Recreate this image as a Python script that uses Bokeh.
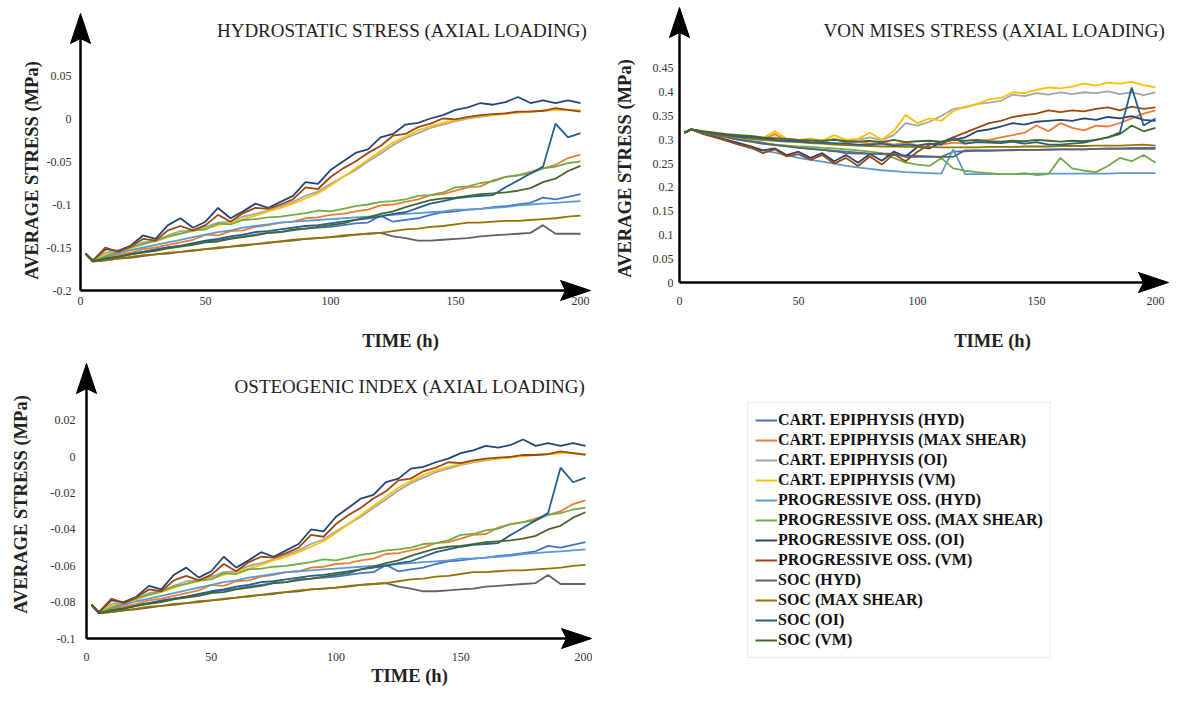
import math
from bokeh.plotting import figure
from bokeh.models import (Label, FixedTicker, CustomJSTickFormatter, Legend, LegendItem)
from bokeh.layouts import row, column
from bokeh.embed import file_html
from bokeh.resources import INLINE

# ---------------- data ----------------
T = [2, 5, 10, 15, 20, 25, 30, 35, 40, 45, 50, 55, 60, 65, 70, 75, 80, 85, 90, 95, 100,
     105, 110, 115, 120, 125, 130, 135, 140, 145, 150, 155, 160, 165, 170, 175, 180, 185, 190, 195, 200]

SERIES = ["CART. EPIPHYSIS (HYD)", "CART. EPIPHYSIS (MAX SHEAR)", "CART. EPIPHYSIS (OI)",
          "CART. EPIPHYSIS (VM)", "PROGRESSIVE OSS. (HYD)", "PROGRESSIVE OSS. (MAX SHEAR)",
          "PROGRESSIVE OSS. (OI)", "PROGRESSIVE OSS. (VM)", "SOC (HYD)", "SOC (MAX SHEAR)",
          "SOC (OI)", "SOC (VM)"]
COLORS = ["#4472C4", "#ED7D31", "#A5A5A5", "#FFC000", "#5B9BD5", "#70AD47",
          "#264478", "#9E480E", "#636363", "#997300", "#255E91", "#43682B"]

# Hydrostatic stress panel
H_CART_HYD = [-0.157, -0.166, -0.163, -0.160, -0.157, -0.155, -0.152, -0.150, -0.148, -0.146, -0.143, -0.141, -0.139, -0.137, -0.135, -0.133, -0.132, -0.130, -0.128, -0.127, -0.126, -0.124, -0.122, -0.121, -0.113, -0.120, -0.118, -0.116, -0.112, -0.109, -0.108, -0.106, -0.105, -0.103, -0.102, -0.100, -0.098, -0.092, -0.094, -0.091, -0.088]
H_CART_MS = [-0.157, -0.166, -0.162, -0.159, -0.156, -0.152, -0.150, -0.147, -0.144, -0.141, -0.135, -0.136, -0.131, -0.130, -0.126, -0.124, -0.121, -0.120, -0.116, -0.115, -0.112, -0.111, -0.108, -0.106, -0.101, -0.100, -0.097, -0.094, -0.089, -0.088, -0.084, -0.080, -0.079, -0.072, -0.068, -0.066, -0.062, -0.058, -0.054, -0.046, -0.042]
H_CART_OI = [-0.157, -0.165, -0.156, -0.154, -0.150, -0.144, -0.142, -0.136, -0.131, -0.130, -0.126, -0.121, -0.120, -0.114, -0.111, -0.107, -0.102, -0.097, -0.090, -0.085, -0.076, -0.068, -0.060, -0.050, -0.041, -0.031, -0.023, -0.017, -0.011, -0.007, -0.003, 0.000, 0.002, 0.004, 0.006, 0.007, 0.008, 0.009, 0.010, 0.010, 0.009]
H_CART_VM = [-0.158, -0.166, -0.158, -0.155, -0.151, -0.146, -0.143, -0.138, -0.134, -0.131, -0.128, -0.124, -0.121, -0.117, -0.113, -0.108, -0.104, -0.099, -0.093, -0.087, -0.078, -0.068, -0.058, -0.048, -0.038, -0.028, -0.021, -0.014, -0.009, -0.005, -0.002, 0.001, 0.003, 0.004, 0.005, 0.007, 0.008, 0.009, 0.010, 0.010, 0.009]
H_PROG_HYD = [-0.157, -0.166, -0.161, -0.157, -0.153, -0.150, -0.147, -0.144, -0.141, -0.138, -0.135, -0.132, -0.130, -0.127, -0.125, -0.123, -0.121, -0.120, -0.119, -0.118, -0.117, -0.116, -0.115, -0.114, -0.113, -0.112, -0.111, -0.110, -0.109, -0.108, -0.106, -0.106, -0.105, -0.104, -0.103, -0.101, -0.100, -0.099, -0.098, -0.097, -0.096]
H_PROG_MS = [-0.157, -0.166, -0.160, -0.155, -0.150, -0.146, -0.142, -0.137, -0.134, -0.130, -0.129, -0.122, -0.123, -0.118, -0.117, -0.115, -0.114, -0.112, -0.110, -0.107, -0.108, -0.105, -0.102, -0.100, -0.097, -0.096, -0.094, -0.090, -0.089, -0.086, -0.080, -0.079, -0.075, -0.073, -0.068, -0.066, -0.064, -0.058, -0.056, -0.052, -0.050]
H_PROG_OI = [-0.157, -0.165, -0.152, -0.154, -0.148, -0.136, -0.140, -0.124, -0.116, -0.127, -0.120, -0.104, -0.116, -0.108, -0.099, -0.104, -0.097, -0.090, -0.074, -0.076, -0.060, -0.050, -0.040, -0.036, -0.022, -0.018, -0.007, -0.005, 0.000, 0.004, 0.010, 0.013, 0.018, 0.016, 0.019, 0.025, 0.018, 0.021, 0.018, 0.021, 0.018]
H_PROG_VM = [-0.157, -0.165, -0.150, -0.155, -0.149, -0.140, -0.142, -0.130, -0.125, -0.130, -0.124, -0.112, -0.120, -0.110, -0.104, -0.105, -0.100, -0.094, -0.080, -0.082, -0.068, -0.058, -0.050, -0.040, -0.032, -0.020, -0.018, -0.010, -0.006, 0.000, -0.001, 0.002, 0.004, 0.005, 0.006, 0.008, 0.008, 0.009, 0.012, 0.010, 0.008]
H_SOC_HYD = [-0.157, -0.166, -0.165, -0.163, -0.162, -0.160, -0.158, -0.157, -0.155, -0.154, -0.152, -0.151, -0.149, -0.148, -0.146, -0.145, -0.143, -0.142, -0.140, -0.139, -0.138, -0.137, -0.135, -0.134, -0.133, -0.137, -0.139, -0.142, -0.142, -0.141, -0.140, -0.139, -0.137, -0.136, -0.135, -0.134, -0.133, -0.124, -0.134, -0.134, -0.134]
H_SOC_MS = [-0.157, -0.166, -0.165, -0.163, -0.161, -0.159, -0.158, -0.156, -0.155, -0.153, -0.152, -0.150, -0.149, -0.147, -0.146, -0.144, -0.143, -0.141, -0.140, -0.139, -0.138, -0.136, -0.135, -0.134, -0.133, -0.131, -0.129, -0.128, -0.126, -0.125, -0.123, -0.121, -0.121, -0.120, -0.119, -0.119, -0.118, -0.117, -0.116, -0.114, -0.113]
H_SOC_OI = [-0.157, -0.166, -0.163, -0.161, -0.158, -0.155, -0.153, -0.150, -0.148, -0.145, -0.142, -0.140, -0.137, -0.135, -0.132, -0.131, -0.129, -0.127, -0.125, -0.124, -0.122, -0.120, -0.118, -0.116, -0.114, -0.111, -0.109, -0.104, -0.099, -0.096, -0.093, -0.091, -0.090, -0.089, -0.080, -0.072, -0.064, -0.056, -0.006, -0.022, -0.017]
H_SOC_VM = [-0.157, -0.166, -0.163, -0.161, -0.158, -0.156, -0.154, -0.151, -0.149, -0.147, -0.144, -0.143, -0.140, -0.138, -0.136, -0.133, -0.132, -0.129, -0.128, -0.126, -0.124, -0.122, -0.118, -0.115, -0.111, -0.108, -0.103, -0.099, -0.095, -0.093, -0.092, -0.090, -0.088, -0.087, -0.086, -0.084, -0.081, -0.074, -0.070, -0.061, -0.055]

# Von Mises stress panel
V_CART_HYD = [0.315, 0.322, 0.316, 0.311, 0.306, 0.302, 0.298, 0.294, 0.290, 0.287, 0.284, 0.281, 0.279, 0.277, 0.275, 0.273, 0.271, 0.270, 0.268, 0.267, 0.266, 0.265, 0.264, 0.275, 0.276, 0.277, 0.277, 0.278, 0.278, 0.279, 0.279, 0.279, 0.280, 0.280, 0.280, 0.281, 0.282, 0.282, 0.283, 0.283, 0.283]
V_CART_MS = [0.315, 0.322, 0.315, 0.311, 0.307, 0.305, 0.303, 0.300, 0.312, 0.298, 0.297, 0.300, 0.295, 0.302, 0.294, 0.296, 0.292, 0.295, 0.290, 0.294, 0.288, 0.292, 0.290, 0.294, 0.292, 0.296, 0.300, 0.305, 0.310, 0.315, 0.330, 0.318, 0.335, 0.325, 0.320, 0.330, 0.328, 0.335, 0.345, 0.355, 0.362]
V_CART_OI = [0.315, 0.322, 0.314, 0.310, 0.306, 0.304, 0.302, 0.300, 0.305, 0.299, 0.298, 0.300, 0.297, 0.302, 0.298, 0.300, 0.305, 0.299, 0.310, 0.335, 0.330, 0.338, 0.350, 0.365, 0.368, 0.375, 0.378, 0.382, 0.395, 0.392, 0.398, 0.395, 0.400, 0.396, 0.400, 0.398, 0.402, 0.396, 0.400, 0.394, 0.400]
V_CART_VM = [0.315, 0.322, 0.316, 0.312, 0.308, 0.306, 0.304, 0.303, 0.318, 0.302, 0.300, 0.303, 0.298, 0.310, 0.300, 0.302, 0.315, 0.300, 0.318, 0.352, 0.335, 0.345, 0.340, 0.360, 0.370, 0.375, 0.385, 0.388, 0.400, 0.398, 0.405, 0.410, 0.408, 0.412, 0.418, 0.414, 0.420, 0.418, 0.422, 0.415, 0.410]
V_PROG_HYD = [0.315, 0.322, 0.314, 0.306, 0.298, 0.290, 0.282, 0.278, 0.273, 0.268, 0.262, 0.258, 0.254, 0.250, 0.245, 0.242, 0.239, 0.236, 0.234, 0.232, 0.231, 0.230, 0.229, 0.280, 0.228, 0.228, 0.228, 0.228, 0.228, 0.228, 0.229, 0.229, 0.229, 0.229, 0.229, 0.229, 0.229, 0.230, 0.230, 0.230, 0.230]
V_PROG_MS = [0.315, 0.322, 0.315, 0.310, 0.305, 0.300, 0.296, 0.292, 0.290, 0.288, 0.286, 0.285, 0.283, 0.282, 0.280, 0.278, 0.275, 0.272, 0.262, 0.252, 0.248, 0.245, 0.262, 0.240, 0.235, 0.232, 0.230, 0.228, 0.228, 0.230, 0.226, 0.228, 0.262, 0.240, 0.235, 0.232, 0.245, 0.262, 0.255, 0.268, 0.252]
V_PROG_OI = [0.315, 0.322, 0.313, 0.306, 0.300, 0.293, 0.286, 0.278, 0.282, 0.268, 0.275, 0.262, 0.272, 0.255, 0.268, 0.252, 0.270, 0.256, 0.275, 0.265, 0.285, 0.282, 0.295, 0.300, 0.305, 0.318, 0.322, 0.328, 0.335, 0.332, 0.338, 0.340, 0.342, 0.340, 0.345, 0.342, 0.348, 0.345, 0.350, 0.342, 0.340]
V_PROG_VM = [0.315, 0.322, 0.312, 0.305, 0.298, 0.290, 0.284, 0.272, 0.280, 0.265, 0.270, 0.258, 0.268, 0.250, 0.262, 0.245, 0.265, 0.248, 0.270, 0.255, 0.275, 0.290, 0.295, 0.305, 0.315, 0.325, 0.335, 0.340, 0.348, 0.352, 0.355, 0.362, 0.358, 0.362, 0.360, 0.365, 0.368, 0.362, 0.370, 0.365, 0.368]
V_SOC_HYD = [0.315, 0.322, 0.315, 0.310, 0.305, 0.300, 0.296, 0.292, 0.289, 0.286, 0.283, 0.281, 0.279, 0.276, 0.272, 0.271, 0.271, 0.271, 0.271, 0.264, 0.264, 0.264, 0.264, 0.264, 0.278, 0.278, 0.278, 0.278, 0.279, 0.279, 0.279, 0.280, 0.280, 0.280, 0.280, 0.281, 0.281, 0.281, 0.281, 0.281, 0.281]
V_SOC_MS = [0.315, 0.322, 0.316, 0.312, 0.308, 0.305, 0.302, 0.300, 0.298, 0.296, 0.295, 0.293, 0.292, 0.290, 0.289, 0.288, 0.287, 0.286, 0.286, 0.285, 0.285, 0.285, 0.284, 0.284, 0.284, 0.284, 0.285, 0.285, 0.285, 0.286, 0.286, 0.286, 0.287, 0.287, 0.287, 0.288, 0.288, 0.288, 0.289, 0.290, 0.288]
V_SOC_OI = [0.315, 0.322, 0.317, 0.313, 0.310, 0.307, 0.305, 0.303, 0.300, 0.298, 0.297, 0.295, 0.294, 0.293, 0.292, 0.290, 0.290, 0.292, 0.288, 0.290, 0.288, 0.292, 0.290, 0.305, 0.292, 0.295, 0.294, 0.293, 0.296, 0.292, 0.295, 0.290, 0.290, 0.292, 0.294, 0.300, 0.305, 0.315, 0.410, 0.330, 0.345]
V_SOC_VM = [0.315, 0.322, 0.318, 0.315, 0.312, 0.310, 0.308, 0.305, 0.303, 0.302, 0.300, 0.299, 0.298, 0.300, 0.297, 0.296, 0.298, 0.295, 0.300, 0.295, 0.297, 0.298, 0.296, 0.300, 0.298, 0.300, 0.297, 0.296, 0.298, 0.297, 0.300, 0.298, 0.296, 0.298, 0.297, 0.300, 0.305, 0.312, 0.330, 0.318, 0.325]

# Osteogenic index panel
O_CART_HYD = [-0.0815, -0.086, -0.0845, -0.083, -0.0815, -0.0805, -0.079, -0.078, -0.077, -0.076, -0.0745, -0.0735, -0.0725, -0.0715, -0.0705, -0.0695, -0.069, -0.068, -0.067, -0.0665, -0.066, -0.065, -0.064, -0.0635, -0.0595, -0.063, -0.062, -0.061, -0.059, -0.0575, -0.057, -0.056, -0.0555, -0.0545, -0.054, -0.053, -0.052, -0.049, -0.050, -0.0485, -0.047]
O_CART_MS = [-0.0815, -0.086, -0.084, -0.0825, -0.081, -0.079, -0.078, -0.0765, -0.075, -0.0735, -0.0705, -0.071, -0.0685, -0.068, -0.066, -0.065, -0.0635, -0.063, -0.061, -0.0605, -0.059, -0.0585, -0.057, -0.056, -0.0535, -0.053, -0.0515, -0.050, -0.0475, -0.047, -0.045, -0.043, -0.0425, -0.039, -0.037, -0.036, -0.034, -0.032, -0.030, -0.026, -0.024]
O_CART_OI = [-0.0815, -0.0855, -0.081, -0.080, -0.078, -0.075, -0.074, -0.071, -0.0685, -0.068, -0.066, -0.0635, -0.063, -0.060, -0.0585, -0.0565, -0.054, -0.0515, -0.048, -0.0455, -0.041, -0.037, -0.033, -0.028, -0.0235, -0.0185, -0.0145, -0.0115, -0.0085, -0.0065, -0.0045, -0.003, -0.002, -0.001, 0.000, 0.0005, 0.001, 0.0015, 0.002, 0.002, 0.0015]
O_CART_VM = [-0.082, -0.086, -0.082, -0.0805, -0.0785, -0.076, -0.0745, -0.072, -0.070, -0.0685, -0.067, -0.065, -0.0635, -0.0615, -0.0595, -0.057, -0.055, -0.0525, -0.0495, -0.0465, -0.042, -0.037, -0.032, -0.027, -0.022, -0.017, -0.0135, -0.010, -0.0075, -0.0055, -0.004, -0.0025, -0.0015, -0.001, -0.0005, 0.0005, 0.001, 0.0015, 0.002, 0.002, 0.0015]
O_PROG_HYD = [-0.0815, -0.086, -0.0835, -0.0815, -0.0795, -0.078, -0.0765, -0.075, -0.0735, -0.072, -0.0705, -0.069, -0.068, -0.0665, -0.0655, -0.0645, -0.0635, -0.063, -0.0625, -0.062, -0.0615, -0.061, -0.0605, -0.060, -0.0595, -0.059, -0.0585, -0.058, -0.0575, -0.057, -0.056, -0.056, -0.0555, -0.055, -0.0545, -0.0535, -0.053, -0.0525, -0.052, -0.0515, -0.051]
O_PROG_MS = [-0.0815, -0.086, -0.083, -0.0805, -0.078, -0.076, -0.074, -0.0715, -0.070, -0.068, -0.0675, -0.064, -0.0645, -0.062, -0.0615, -0.0605, -0.060, -0.059, -0.058, -0.0565, -0.057, -0.0555, -0.054, -0.053, -0.0515, -0.051, -0.050, -0.048, -0.0475, -0.046, -0.043, -0.0425, -0.0405, -0.0395, -0.037, -0.036, -0.035, -0.032, -0.031, -0.029, -0.028]
O_PROG_OI = [-0.0815, -0.0855, -0.079, -0.080, -0.077, -0.071, -0.073, -0.065, -0.061, -0.0665, -0.063, -0.055, -0.061, -0.057, -0.0525, -0.055, -0.0515, -0.048, -0.040, -0.041, -0.033, -0.028, -0.023, -0.021, -0.014, -0.012, -0.0065, -0.0055, -0.003, -0.001, 0.002, 0.0035, 0.006, 0.005, 0.0065, 0.0095, 0.006, 0.0075, 0.006, 0.0075, 0.006]
O_PROG_VM = [-0.0815, -0.0855, -0.078, -0.0805, -0.0775, -0.073, -0.074, -0.068, -0.0655, -0.068, -0.065, -0.059, -0.063, -0.058, -0.055, -0.0555, -0.053, -0.050, -0.043, -0.044, -0.037, -0.032, -0.028, -0.023, -0.019, -0.013, -0.012, -0.008, -0.006, -0.003, -0.0035, -0.002, -0.001, -0.0005, 0.000, 0.001, 0.001, 0.0015, 0.003, 0.002, 0.001]
O_SOC_HYD = [-0.0815, -0.086, -0.0855, -0.0845, -0.084, -0.083, -0.082, -0.0815, -0.0805, -0.080, -0.079, -0.0785, -0.0775, -0.077, -0.076, -0.0755, -0.0745, -0.074, -0.073, -0.0725, -0.072, -0.0715, -0.0705, -0.070, -0.0695, -0.0715, -0.0725, -0.074, -0.074, -0.0735, -0.073, -0.0725, -0.0715, -0.071, -0.0705, -0.070, -0.0695, -0.065, -0.070, -0.070, -0.070]
O_SOC_MS = [-0.0815, -0.086, -0.0855, -0.0845, -0.0835, -0.0825, -0.082, -0.081, -0.0805, -0.0795, -0.079, -0.078, -0.0775, -0.0765, -0.076, -0.075, -0.0745, -0.0735, -0.073, -0.0725, -0.072, -0.071, -0.0705, -0.070, -0.0695, -0.0685, -0.0675, -0.067, -0.066, -0.0655, -0.0645, -0.0635, -0.0635, -0.063, -0.0625, -0.0625, -0.062, -0.0615, -0.061, -0.060, -0.0595]
O_SOC_OI = [-0.0815, -0.086, -0.0845, -0.0835, -0.082, -0.0805, -0.0795, -0.078, -0.077, -0.0755, -0.074, -0.073, -0.0715, -0.0705, -0.069, -0.0685, -0.0675, -0.0665, -0.0655, -0.065, -0.064, -0.063, -0.062, -0.061, -0.060, -0.0585, -0.0575, -0.055, -0.0525, -0.051, -0.0495, -0.0485, -0.048, -0.0475, -0.043, -0.039, -0.035, -0.031, -0.006, -0.014, -0.0115]
O_SOC_VM = [-0.0815, -0.086, -0.0845, -0.0835, -0.082, -0.081, -0.080, -0.0785, -0.0775, -0.0765, -0.075, -0.0745, -0.073, -0.072, -0.071, -0.0695, -0.069, -0.0675, -0.067, -0.066, -0.065, -0.064, -0.062, -0.0605, -0.0585, -0.057, -0.0545, -0.0525, -0.0505, -0.0495, -0.049, -0.048, -0.047, -0.0465, -0.046, -0.045, -0.0435, -0.040, -0.038, -0.0335, -0.0305]

HYD = [H_CART_HYD, H_CART_MS, H_CART_OI, H_CART_VM, H_PROG_HYD, H_PROG_MS,
       H_PROG_OI, H_PROG_VM, H_SOC_HYD, H_SOC_MS, H_SOC_OI, H_SOC_VM]
VM = [V_CART_HYD, V_CART_MS, V_CART_OI, V_CART_VM, V_PROG_HYD, V_PROG_MS,
      V_PROG_OI, V_PROG_VM, V_SOC_HYD, V_SOC_MS, V_SOC_OI, V_SOC_VM]
OI = [O_CART_HYD, O_CART_MS, O_CART_OI, O_CART_VM, O_PROG_HYD, O_PROG_MS,
      O_PROG_OI, O_PROG_VM, O_SOC_HYD, O_SOC_MS, O_SOC_OI, O_SOC_VM]

X_TICKS = [0, 50, 100, 150, 200]
HYD_TICKS = [-0.2, -0.15, -0.1, -0.05, 0, 0.05]
VM_TICKS = [0, 0.05, 0.1, 0.15, 0.2, 0.25, 0.3, 0.35, 0.4, 0.45]
OI_TICKS = [-0.1, -0.08, -0.06, -0.04, -0.02, 0, 0.02]

TITLES = ["HYDROSTATIC STRESS (AXIAL LOADING)", "VON MISES STRESS (AXIAL LOADING)",
          "OSTEOGENIC INDEX (AXIAL LOADING)"]
Y_LABEL = "AVERAGE STRESS (MPa)"
X_LABEL = "TIME (h)"

FONT = "Liberation Serif"

# arrowhead shape, in pixels: length, half width, notch depth
HEAD_L, HEAD_W, HEAD_N = 30, 10, 5


def panel(geo, yticks, data, title):
    """geo: figure box on the page, axis origin in page pixels, pixel scales,
    and page-pixel anchors of the arrow tips and texts."""
    fx, fy, w, h = geo["box"]
    ox, oy = geo["origin"]
    sx, sy = geo["scale"]
    y0 = geo["ymin"]

    def dx(px):
        return (px - ox) / sx

    def dy(py):
        return y0 + (oy - py) / sy

    p = figure(width=w, height=h, x_range=(dx(fx), dx(fx + w)), y_range=(dy(fy + h), dy(fy)),
               output_backend="svg", toolbar_location=None, min_border=0)
    p.outline_line_color = None
    p.grid.visible = False
    p.background_fill_color = "white"
    p.border_fill_color = "white"

    for ys, c in zip(data, COLORS):
        p.line(T, ys, line_color=c, line_width=1.8)

    xa, ya = p.xaxis[0], p.yaxis[0]
    xa.fixed_location = y0
    ya.fixed_location = 0
    for ax in (xa, ya):
        ax.axis_line_color = None
        ax.major_tick_line_color = None
        ax.minor_tick_line_color = None
        ax.major_tick_out = 0
        ax.major_tick_in = 0
        ax.minor_tick_out = 0
        ax.major_label_text_font = FONT
        ax.major_label_text_font_size = "12px"
        ax.major_label_text_color = "#333333"
    xa.ticker = FixedTicker(ticks=X_TICKS)
    ya.ticker = FixedTicker(ticks=yticks)
    ya.formatter = CustomJSTickFormatter(
        code="return tick.toFixed(2).replace(/\\.?0+$/, '');")
    xa.major_label_standoff = geo["x_std"]
    ya.major_label_standoff = geo["y_std"]

    # axis arrows
    xt, yt = geo["xtip"], geo["ytip"]
    p.line([0, dx(xt - HEAD_L + HEAD_N)], [y0, y0], line_color="black", line_width=2.5)
    p.line([0, 0], [y0, dy(yt + HEAD_L - HEAD_N)], line_color="black", line_width=2.5)
    rx = [(0, 0), (-HEAD_L, -HEAD_W), (-HEAD_L + HEAD_N, 0), (-HEAD_L, HEAD_W)]
    p.patch([dx(xt + a) for a, b in rx], [dy(oy + b) for a, b in rx],
            fill_color="black", line_color="black", line_width=1)
    uy = [(0, 0), (-HEAD_W, HEAD_L), (0, HEAD_L - HEAD_N), (HEAD_W, HEAD_L)]
    p.patch([dx(ox + a) for a, b in uy], [dy(yt + b) for a, b in uy],
            fill_color="black", line_color="black", line_width=1)

    tx, ty = geo["title"]
    p.add_layout(Label(x=dx(tx), y=dy(ty), text=title, text_align="right",
                       text_baseline="middle", text_font=FONT, text_font_size="19px",
                       text_color="#222222"))
    lx, ly = geo["ylab"]
    p.add_layout(Label(x=dx(lx), y=dy(ly), text=Y_LABEL, angle=math.pi / 2,
                       text_align="center", text_baseline="middle", text_font=FONT,
                       text_font_size="18.5px", text_font_style="bold", text_color="#222222"))
    bx, by = geo["xlab"]
    p.add_layout(Label(x=dx(bx), y=dy(by), text=X_LABEL, text_align="center",
                       text_baseline="middle", text_font=FONT, text_font_size="18.5px",
                       text_font_style="bold", text_color="#222222"))
    return p


G1 = dict(box=(0, 0, 592, 356), origin=(80, 290), scale=(2.5, 860.0), ymin=-0.2,
          xtip=590, ytip=13, title=(587, 30), ylab=(31, 170), xlab=(400, 340),
          x_std=6, y_std=9)
G2 = dict(box=(592, 0, 577, 356), origin=(679, 282), scale=(2.38, 475.6), ymin=0.0,
          xtip=1168, ytip=7, title=(1165, 30), ylab=(624, 168), xlab=(992, 340),
          x_std=14, y_std=6)
G3 = dict(box=(0, 356, 592, 330), origin=(86, 638), scale=(2.495, 1817.0), ymin=-0.1,
          xtip=591, ytip=363, title=(585, 386), ylab=(20, 504), xlab=(409, 675),
          x_std=14, y_std=11)

p1 = panel(G1, HYD_TICKS, HYD, TITLES[0])
p2 = panel(G2, VM_TICKS, VM, TITLES[1])
p3 = panel(G3, OI_TICKS, OI, TITLES[2])

# legend panel (its sample lines lie outside the visible ranges)
lf = figure(width=577, height=330, output_backend="svg", toolbar_location=None,
            x_axis_location=None, y_axis_location=None, x_range=(0, 1), y_range=(0, 1),
            min_border=0)
lf.outline_line_color = None
lf.grid.visible = False
items = []
for name, c, ys in zip(SERIES, COLORS, HYD):
    r = lf.line(T, ys, line_color=c, line_width=2)
    items.append(LegendItem(label=name, renderers=[r]))
leg = Legend(items=items, location=(155, 28), glyph_width=22, glyph_height=20,
             label_height=20, label_standoff=1, spacing=0, padding=7, margin=0,
             label_text_font=FONT, label_text_font_style="bold", label_text_font_size="16px",
             label_text_color="#111111", border_line_color="#d9d9d9", border_line_width=1,
             background_fill_color="white", background_fill_alpha=1.0)
lf.add_layout(leg)

layout = column(row(p1, p2), row(p3, lf))
open("out.html", "w").write(file_html(layout, INLINE))
